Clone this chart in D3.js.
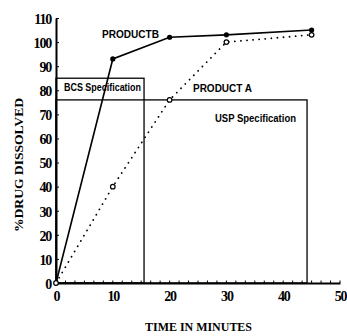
<!DOCTYPE html>
<html>
<head>
<meta charset="utf-8">
<script src="https://cdn.jsdelivr.net/npm/d3@7"></script>
<style>
  body { margin: 0; background: #fff; }
  .tick text { font-family: "Liberation Serif", serif; font-weight: bold; font-size: 14px; letter-spacing: -1.2px; fill: #000; }
  .lbl { font-family: "Liberation Sans", sans-serif; font-weight: bold; font-size: 10px; fill: #000; }
  .axlbl { font-family: "Liberation Serif", serif; font-weight: bold; font-size: 13px; fill: #000; }
</style>
</head>
<body>
<svg id="chart" width="347" height="336"></svg>
<script>
// dissolution data (minutes vs % dissolved)
var times = [0, 10, 20, 30, 45];
var productA = [0, 40, 76, 100, 103];
var productB = [0, 93, 102, 103, 105];
var xTicks = [0, 10, 20, 30, 40, 50];
var yTicks = [0, 10, 20, 30, 40, 50, 60, 70, 80, 90, 100, 110];
// specification boxes: [end minute, % dissolved]
var bcsSpec = [15.5, 85];
var uspSpec = [44.2, 76];

var svg = d3.select("#chart");

var x = d3.scaleLinear().domain([0, 50]).range([56, 340]);
var y = d3.scaleLinear().domain([0, 110]).range([283, 18]);

// spec boxes
var boxes = svg.append("g").attr("fill", "none").attr("stroke", "#000").attr("stroke-width", 1.3);
boxes.append("rect")
	.attr("x", x(0)).attr("y", y(bcsSpec[1]))
	.attr("width", x(bcsSpec[0]) - x(0)).attr("height", y(0) - y(bcsSpec[1]));
boxes.append("rect")
	.attr("x", x(0)).attr("y", y(uspSpec[1]))
	.attr("width", x(uspSpec[0]) - x(0)).attr("height", y(0) - y(uspSpec[1]));

// minor ticks on x axis
svg.append("g").selectAll("line").data(d3.range(0, 50.01, 10 / 6)).enter()
	.append("line")
	.attr("x1", function(d){ return x(d); }).attr("x2", function(d){ return x(d); })
	.attr("y1", y(0)).attr("y2", y(0) - 2.5)
	.attr("stroke", "#000").attr("stroke-width", 1);

// axes
var xAxis = svg.append("g").attr("transform", "translate(0," + y(0) + ")")
	.call(d3.axisBottom(x).tickValues(xTicks).tickSize(0).tickPadding(8));
xAxis.select(".domain").attr("stroke-width", 2);

var yAxis = svg.append("g").attr("transform", "translate(" + x(0) + ",0)")
	.call(d3.axisLeft(y).tickValues(yTicks).tickSizeInner(-3).tickSizeOuter(0).tickPadding(5));
yAxis.select(".domain").attr("stroke-width", 2);
yAxis.selectAll(".tick text").attr("dy", "0.38em");

// lines
var line = d3.line().x(function(d, i){ return x(times[i]); }).y(function(d){ return y(d); });
svg.append("path").datum(productA)
	.attr("d", line).attr("fill", "none")
	.attr("stroke", "#000").attr("stroke-width", 1.8)
	.attr("stroke-linecap", "round").attr("stroke-dasharray", "0.1 6");
svg.append("path").datum(productB)
	.attr("d", line).attr("fill", "none")
	.attr("stroke", "#000").attr("stroke-width", 1.6);

// markers
svg.append("g").selectAll("circle").data(productA).enter()
	.append("circle")
	.attr("cx", function(d, i){ return x(times[i]); }).attr("cy", function(d){ return y(d); })
	.attr("r", 2.3).attr("fill", "#fff").attr("stroke", "#000").attr("stroke-width", 1.2);
svg.append("g").selectAll("circle").data(productB.slice(1)).enter()
	.append("circle")
	.attr("cx", function(d, i){ return x(times[i + 1]); }).attr("cy", function(d){ return y(d); })
	.attr("r", 2.6).attr("fill", "#000");

// labels
function label(txt, cx, cy, len){
	svg.append("text").attr("class", "lbl")
		.attr("x", cx).attr("y", cy).attr("dy", "0.35em")
		.attr("textLength", len).attr("lengthAdjust", "spacingAndGlyphs")
		.text(txt);
}
label("PRODUCTB", 102, 34, 57);
label("BCS Specification", 64, 87, 77);
label("PRODUCT A", 193, 88, 59);
label("USP Specification", 215, 118, 81);

svg.append("text").attr("class", "axlbl")
	.attr("x", 145).attr("y", 331)
	.attr("textLength", 107).attr("lengthAdjust", "spacingAndGlyphs")
	.text("TIME IN MINUTES");
svg.append("text").attr("class", "axlbl")
	.attr("transform", "translate(23,232) rotate(-90)")
	.attr("textLength", 134).attr("lengthAdjust", "spacingAndGlyphs")
	.text("%DRUG DISSOLVED");
</script>
</body>
</html>
